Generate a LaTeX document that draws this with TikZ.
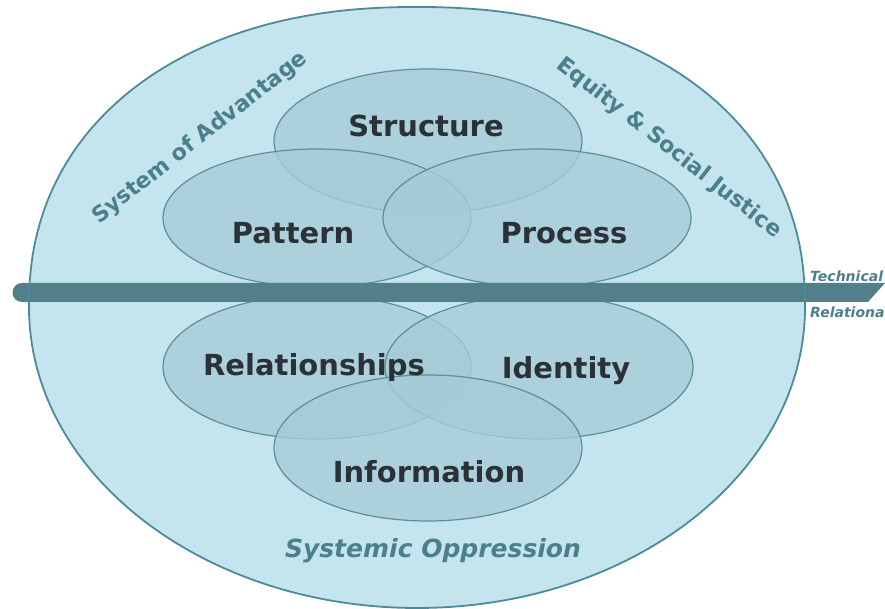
\documentclass[tikz,border=0pt]{standalone}
\usepackage{fontspec}
\setmainfont{DejaVu Sans}
\usetikzlibrary{shapes.geometric}
\definecolor{outerfill}{HTML}{C4E4EE}
\definecolor{outerline}{HTML}{4E8A99}
\definecolor{petalfill}{HTML}{A6CBD8}
\definecolor{petalline}{HTML}{5A8F9E}
\definecolor{darktext}{HTML}{2B3237}
\definecolor{tealtext}{HTML}{4C7F8C}
\definecolor{bandcol}{HTML}{527F89}
\newcommand{\outershape}{plot[domain=0:90, samples=45] ({417+388*(abs(cos(\x))+0.00001)^0.91}, {302+300*(abs(sin(\x))+0.00001)^0.91})
	-- plot[domain=90:180, samples=45] ({417-388*(abs(cos(\x))+0.00001)^0.91}, {302+300*(abs(sin(\x))+0.00001)^0.91})
	arc[start angle=180, end angle=360, x radius=388pt, y radius=301pt] -- cycle}
\begin{document}
\begin{tikzpicture}[x=1pt, y=1pt,
	petal/.style={ellipse, draw=petalline, line width=1.2pt, fill=petalfill, fill opacity=0.8, inner sep=0pt, outer sep=0pt, minimum width=308pt},
	word/.style={text=darktext, font=\bfseries\fontsize{29}{32}\selectfont},
	side/.style={text=tealtext, font=\bfseries\fontsize{22}{26}\selectfont},
	axis/.style={text=tealtext, font=\bfseries\itshape\fontsize{14}{16}\selectfont, anchor=west, inner sep=0pt}]
	\useasboundingbox (0, 0) rectangle (885, 609);
	\coordinate (outer) at (417, 302);
	\path[fill=outerfill] \outershape;
	\node[petal, minimum height=144pt] (structure) at (428, 468) {};
	\node[petal, minimum height=138pt] (pattern) at (317, 391) {};
	\node[petal, minimum height=138pt] (process) at (537, 391) {};
	\node[petal, minimum height=144pt] (relationships) at (317, 242) {};
	\node[petal, minimum height=144pt] (identity) at (539, 242) {};
	\node[petal, minimum height=146pt] (information) at (428, 161) {};
	\fill[bandcol] (22, 307) -- (868, 307) -- (885, 326) -- (22, 326) arc[start angle=90, end angle=270, radius=9.5pt] -- cycle;
	\draw[outerline, line width=1.8pt] \outershape;
	\node[word] at (426, 483) (t1) {Structure};
	\node[word] at (293, 376) (t2) {Pattern};
	\node[word] at (564, 376) (t3) {Process};
	\node[word] at (314, 241) (t4) {Relationships};
	\node[word] at (566, 238) (t5) {Identity};
	\node[word] at (429, 137) (t6) {Information};
	\node[side, rotate=38] at (200, 471) (s1) {System of Advantage};
	\node[side, rotate=-38] at (669, 461) (s2) {Equity \& Social Justice};
	\node[side, font=\bfseries\itshape\fontsize{25}{28}\selectfont] at (433, 58) (s3) {Systemic Oppression};
	\node[axis] at (810, 333) (a1) {Technical};
	\node[axis] at (810, 297) (a2) {Relational};
\end{tikzpicture}
\end{document}
